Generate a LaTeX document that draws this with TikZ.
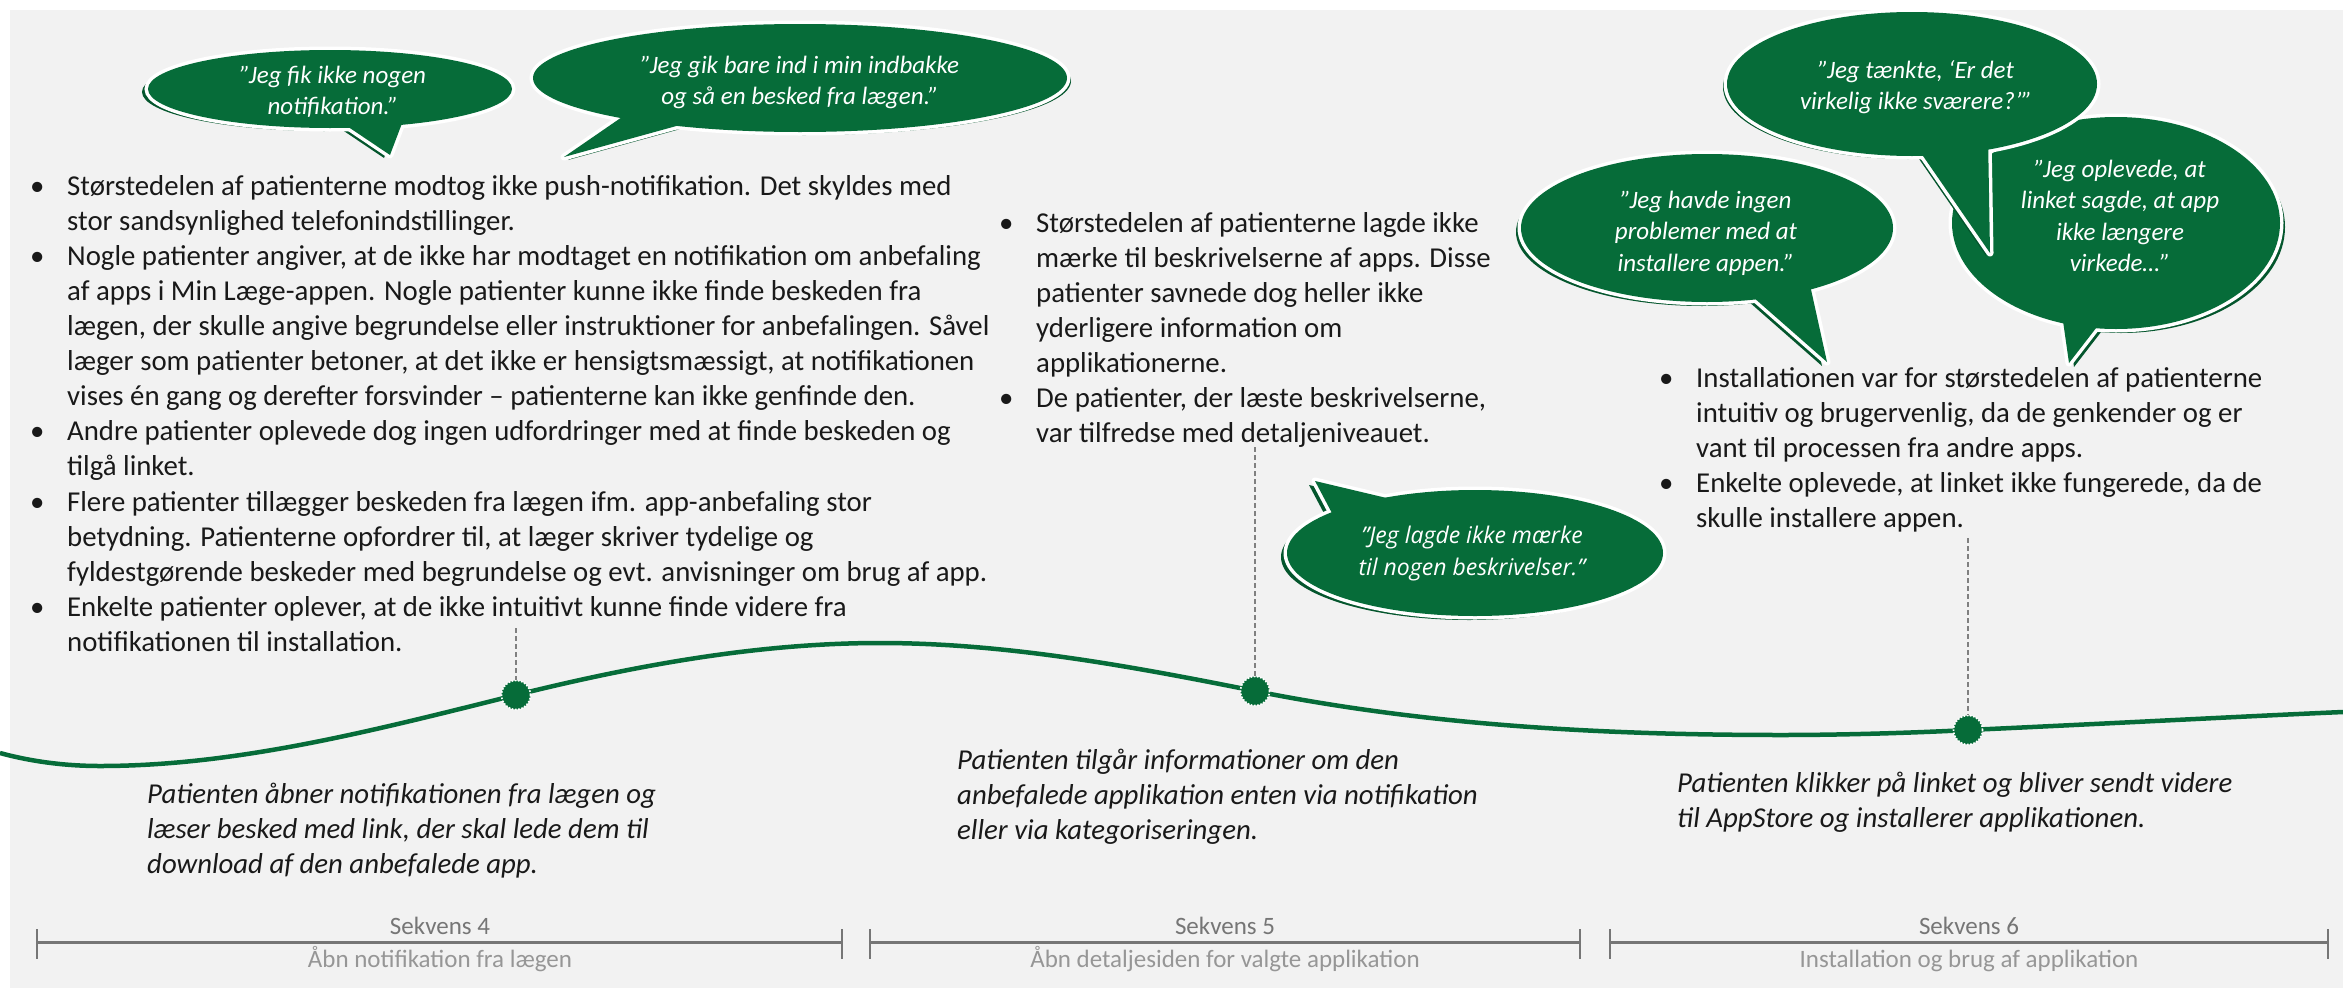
\documentclass[tikz,border=0pt]{standalone}
\usepackage{fontspec}
\setmainfont{Carlito}
\newfontfamily\opensans{Open Sans}
\definecolor{bubgreen}{RGB}{6,108,57}
\definecolor{bubshade}{RGB}{4,86,45}
\definecolor{bgcol}{RGB}{242,242,242}
\definecolor{txtcol}{RGB}{25,25,25}
\definecolor{seqcol}{RGB}{118,118,118}
\definecolor{subcol}{RGB}{150,150,150}
\definecolor{dashcol}{RGB}{128,128,128}
\newcommand\bub[7]{%
  \begin{scope}[shift={#7}]
    \fill[bubshade] (#1) ellipse [x radius=#2, y radius=#3];
    \fill[bubshade] (#4) -- (#6) -- (#5) -- cycle;
  \end{scope}
  \draw[white, line width=7pt] (#1) ellipse [x radius=#2, y radius=#3];
  \draw[white, line width=7pt, line join=round] (#4) -- (#6) -- (#5) -- cycle;
  \fill[bubgreen] (#1) ellipse [x radius=#2, y radius=#3];
  \fill[bubgreen] (#4) -- (#6) -- (#5) -- cycle;
}
\newcommand\bl{\makebox[30pt][l]{\makebox[0pt]{•}}}
\newcommand\cl{\hspace*{30pt}}
\tikzset{
  body/.style={anchor=north west, inner sep=0pt, align=left, text=txtcol,
    font=\fontsize{28.8pt}{35.1pt}\selectfont},
  capt/.style={anchor=north west, inner sep=0pt, align=left, text=txtcol,
    font=\fontsize{28.8pt}{35.1pt}\selectfont\itshape},
  quote/.style={anchor=north, inner sep=0pt, align=center, text=white,
    font=\fontsize{25pt}{31.5pt}\selectfont\itshape},
  quoteos/.style={anchor=north, inner sep=0pt, align=center, text=white,
    font=\opensans\fontsize{23pt}{32pt}\selectfont\itshape},
  seqtitle/.style={anchor=base, inner sep=0pt, text=seqcol,
    font=\fontsize{25pt}{30pt}\selectfont},
  seqsub/.style={anchor=base, inner sep=0pt, text=subcol,
    font=\fontsize{25pt}{30pt}\selectfont},
  curveline/.style={draw=bubgreen, line width=4.5pt},
  leader/.style={draw=dashcol, line width=1.3pt, dash pattern=on 5pt off 3pt},
  dotnode/.style={circle, fill=bubgreen, draw=white, line width=1.6pt,
    dash pattern=on 1.6pt off 1.6pt, minimum size=29pt, inner sep=0pt},
  seqbar/.style={draw=seqcol, line width=3pt},
  seqtick/.style={draw=seqcol, line width=2pt},
}
\begin{document}
\begin{tikzpicture}[x=1pt,y=-1pt]
\useasboundingbox (0,0) rectangle (2343,988);
\fill[bgcol] (10,10) rectangle (2343,988);

% timeline curve
\coordinate (c0) at (0,753);
\coordinate (c1) at (100,766);
\coordinate (d1) at (516,695);
\coordinate (c3) at (880,643);
\coordinate (d2) at (1255,691);
\coordinate (c5) at (1782,735);
\coordinate (d3) at (1968,730);
\coordinate (c7) at (2343,712);
\draw[curveline] (c0) .. controls (33,762) and (67,766) .. (c1)
  .. controls (239,766) and (377,729.5) .. (d1)
  .. controls (637,665) and (759,643) .. (c3)
  .. controls (1005,643) and (1130,666) .. (d2)
  .. controls (1430,726) and (1607,735) .. (c5)
  .. controls (1840,735) and (1910,733) .. (d3)
  .. controls (2100,724) and (2250,716) .. (c7);

\coordinate (t1) at (516,628);
\coordinate (t2) at (1255,447);
\coordinate (t3) at (1968,538);
\node[dotnode] (dot1) at (d1) {};
\node[dotnode] (dot2) at (d2) {};
\node[dotnode] (dot3) at (d3) {};
\draw[leader] (t1) -- (dot1.north);
\draw[leader] (t2) -- (dot2.north);
\draw[leader] (t3) -- (dot3.north);

% bullet texts
\node[body] (blockA) at (37,170.4) {\strut\bl Størstedelen af patienterne modtog ikke push-notifikation. Det skyldes med\\
\cl stor sandsynlighed telefonindstillinger.\\
\bl Nogle patienter angiver, at de ikke har modtaget en notifikation om anbefaling\\
\cl af apps i Min Læge-appen. Nogle patienter kunne ikke finde beskeden fra\\
\cl lægen, der skulle angive begrundelse eller instruktioner for anbefalingen. Såvel\\
\cl læger som patienter betoner, at det ikke er hensigtsmæssigt, at notifikationen\\
\cl vises én gang og derefter forsvinder – patienterne kan ikke genfinde den.\\
\bl Andre patienter oplevede dog ingen udfordringer med at finde beskeden og\\
\cl tilgå linket.\\
\bl Flere patienter tillægger beskeden fra lægen ifm. app-anbefaling stor\\
\cl betydning. Patienterne opfordrer til, at læger skriver tydelige og\\
\cl fyldestgørende beskeder med begrundelse og evt. anvisninger om brug af app.\\
\bl Enkelte patienter oplever, at de ikke intuitivt kunne finde videre fra\\
\cl notifikationen til installation.};

\node[body] (blockB) at (1006,207.4) {\strut\bl Størstedelen af patienterne lagde ikke\\
\cl mærke til beskrivelserne af apps. Disse\\
\cl patienter savnede dog heller ikke\\
\cl yderligere information om\\
\cl applikationerne.\\
\bl De patienter, der læste beskrivelserne,\\
\cl var tilfredse med detaljeniveauet.};

\node[body] (blockC) at (1666,362.4) {\strut\bl Installationen var for størstedelen af patienterne\\
\cl intuitiv og brugervenlig, da de genkender og er\\
\cl vant til processen fra andre apps.\\
\bl Enkelte oplevede, at linket ikke fungerede, da de\\
\cl skulle installere appen.};

% captions
\node[capt] (cap1) at (147,778.4) {\strut Patienten åbner notifikationen fra lægen og\\
læser besked med link, der skal lede dem til\\
download af den anbefalede app.};
\node[capt] (cap2) at (957,744.4) {\strut Patienten tilgår informationer om den\\
anbefalede applikation enten via notifikation\\
eller via kategoriseringen.};
\node[capt] (cap3) at (1677,767.4) {\strut Patienten klikker på linket og bliver sendt videre\\
til AppStore og installerer applikationen.};

% sequence bars
\coordinate (s4l) at (37,942);  \coordinate (s4r) at (842,942);
\coordinate (s5l) at (870,942); \coordinate (s5r) at (1580,942);
\coordinate (s6l) at (1610,942); \coordinate (s6r) at (2328,942);
\foreach \a/\b in {s4l/s4r, s5l/s5r, s6l/s6r}{
  \draw[seqbar] (\a) -- (\b);
  \draw[seqtick] ([yshift=13pt]\a) -- ([yshift=-17pt]\a);
  \draw[seqtick] ([yshift=13pt]\b) -- ([yshift=-17pt]\b);
}
\node[seqtitle] (seq4) at (440,934) {Sekvens 4};
\node[seqsub] (sub4) at (440,967) {Åbn notifikation fra lægen};
\node[seqtitle] (seq5) at (1225,934) {Sekvens 5};
\node[seqsub] (sub5) at (1225,967) {Åbn detaljesiden for valgte applikation};
\node[seqtitle] (seq6) at (1969,934) {Sekvens 6};
\node[seqsub] (sub6) at (1969,967) {Installation og brug af applikation};

% speech bubbles
\bub{330,89}{182}{39}{335,118}{404,118}{390,155}{(-6,3)}
\node[quote] (qA) at (333,61) {\strut ”Jeg fik ikke nogen\\ notifikation.”};

\bub{800,78}{267}{54}{625,115}{680,125}{564,157}{(4,3)}
\node[quote] (qB) at (800,51) {\strut ”Jeg gik bare ind i min indbakke\\ og så en besked fra lægen.”};

\bub{1707,228}{186}{74}{1745,290}{1810,285}{1827,362}{(-5,4)}
\node[quote] (qE) at (1706,186) {\strut ”Jeg havde ingen\\ problemer med at\\ installere appen.”};

\bub{2116,223}{164}{106}{2060,300}{2110,310}{2069,363}{(5,4)}
\node[quote] (qD) at (2120,155) {\strut ”Jeg oplevede, at\\ linket sagde, at app\\ ikke længere\\ virkede…”};

\bub{1912,84}{185}{72}{1912,140}{1988,135}{1990,253}{(-4,3)}
\node[quote] (qC) at (1916,56) {\strut ”Jeg tænkte, ‘Er det\\ virkelig ikke sværere?’”};

\bub{1475,553}{188}{63}{1333,515}{1395,500}{1315,481}{(-6,4)}
\node[quoteos] (qF) at (1472,520.6) {\strut ”Jeg lagde ikke mærke\\ til nogen beskrivelser.”};
\end{tikzpicture}
\end{document}
